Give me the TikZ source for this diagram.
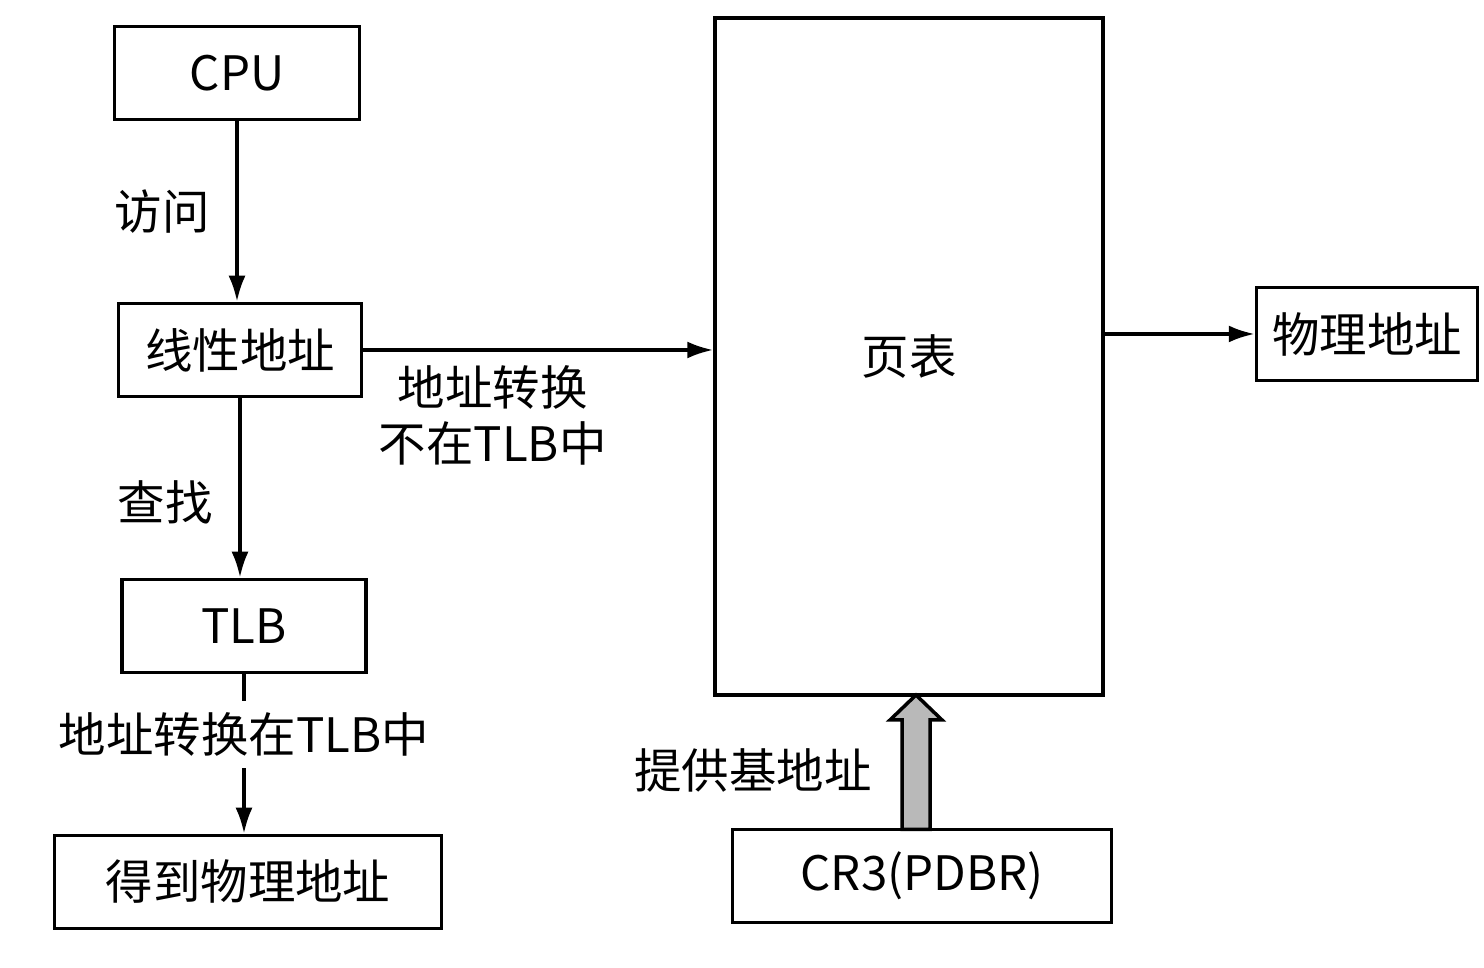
\documentclass[tikz,border=0pt]{standalone}
\usepackage{fontspec}
\setmainfont{Noto Sans CJK SC}
\usetikzlibrary{arrows.meta}

\begin{document}
\begin{tikzpicture}[box/.style = {draw, line width = 1pt, minimum height = 0.93cm, inner sep = 0pt},
  arr/.style = {line width = 1pt, -{Latex[length = 2.6mm, width = 1.7mm]}},
  font = \fontsize{13.5pt}{16pt}\selectfont]
\useasboundingbox[fill = white] (0,0) rectangle (14.84,9.68);

\node[box, minimum width = 2.45cm] (cpu) at (2.37,8.95) {CPU};
\node[box, minimum width = 2.43cm] (lin) at (2.40,6.18) {线性地址};
\node[box, minimum width = 2.44cm] (tlb) at (2.44,3.42) {TLB};
\node[box, minimum width = 3.87cm] (get) at (2.48,0.86) {得到物理地址};
\node[box, minimum width = 3.88cm, minimum height = 6.77cm] (pt) at (9.09,6.115) {页表};
\node[box, minimum width = 2.21cm] (phys) at (13.67,6.34) {物理地址};
\node[box, minimum width = 3.79cm] (cr3) at (9.22,0.92) {CR3(PDBR)};

\draw[arr] (cpu.south) -- (cpu.south |- lin.north) node[midway, left = 4pt] {访问};
\draw[arr] (lin.south) -- (lin.south |- tlb.north) node[midway, left = 4pt, yshift = -4pt] {查找};
\draw[arr] (tlb.south) -- (tlb.south |- get.north) node[pos = 0.38, fill = white, inner xsep = 1pt] {地址转换在TLB中};
\draw[arr] (lin.east) -- (lin.east -| pt.west) node[pos = 0.37, below = 4pt, align = center, inner sep = 0pt] {地址转换\\不在TLB中};
\draw[arr] (pt.east |- phys.west) -- (phys.west);

% base address of the page table
\coordinate (tip) at (9.16,2.73);
\draw[line width = 1pt, fill = gray!55] (tip) -- ++(0.26,-0.25) -- ++(-0.12,0) -- ++(0,-1.095) -- ++(-0.28,0) -- ++(0,1.095) -- ++(-0.12,0) -- cycle;
\node[anchor = east] (base) at (8.84,1.98) {提供基地址};

\end{tikzpicture}
\end{document}
